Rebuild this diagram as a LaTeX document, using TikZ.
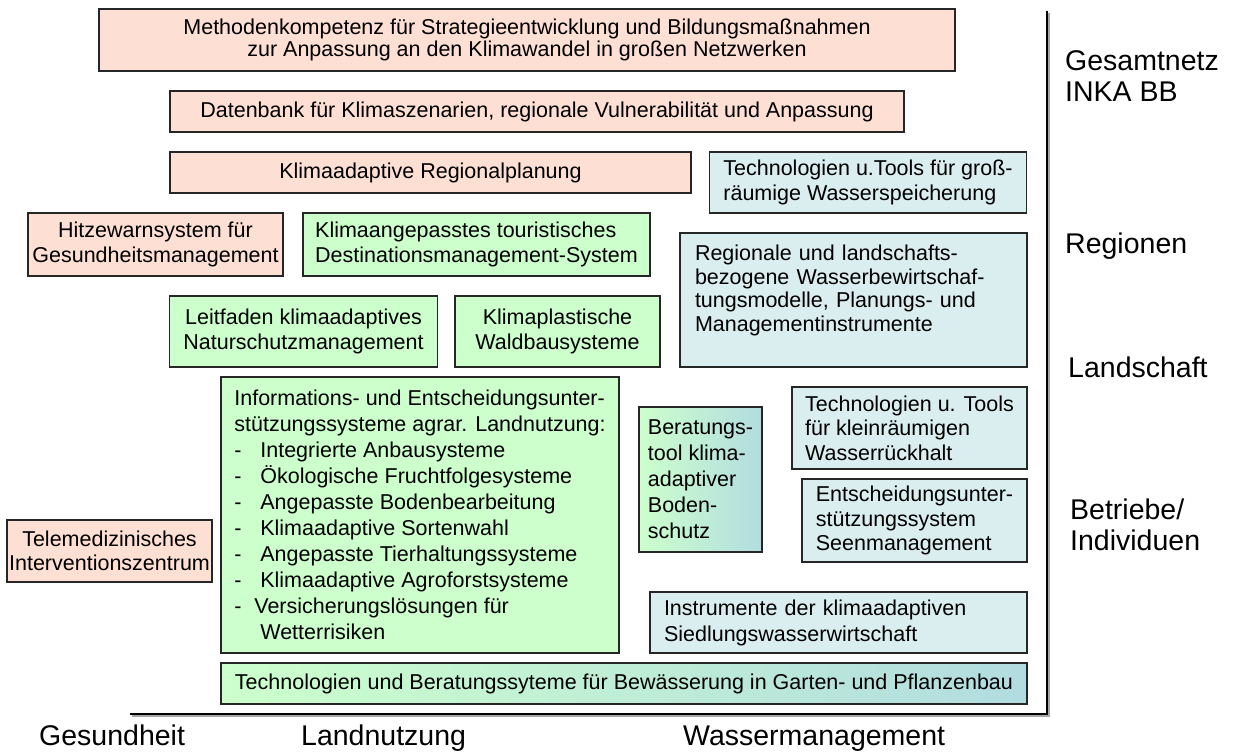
\documentclass[tikz,border=0pt]{standalone}
\usepackage{fontspec}
\setmainfont{Liberation Sans}

\definecolor{pinkfill}{HTML}{FDDFD3}
\definecolor{greenfill}{HTML}{CCFFCC}
\definecolor{bluefill}{HTML}{DAEDEF}
\definecolor{tealfill}{HTML}{B2DCE0}

\begin{document}
\begin{tikzpicture}[
        x=1pt, y=-1pt,
        every node/.style={font=\fontsize{21.5}{24.5}\selectfont},
        box/.style={draw=black!85, line width=1.2pt, inner xsep=14pt, inner ysep=0pt},
        pinkbox/.style={box, fill=pinkfill, align=center},
        greenbox/.style={box, fill=greenfill},
        bluebox/.style={box, fill=bluefill, align=left},
        fadebox/.style={box, left color=greenfill, right color=tealfill},
        level/.style={font=\fontsize{28.5}{31}\selectfont, anchor=base west, align=left, inner sep=0pt},
        field/.style={font=\fontsize{28.5}{31}\selectfont, anchor=base west, inner sep=0pt}
    ]
        \useasboundingbox (0,0) rectangle (1237,753);

        % Gesamtnetz / Regionen
        \node[pinkbox, minimum width=856pt, minimum height=62pt,
              font=\fontsize{21.5}{22.5}\selectfont] (methoden) at (527,40)
            {Methodenkompetenz für Strategieentwicklung und Bildungsmaßnahmen\\zur Anpassung an den Klimawandel in großen Netzwerken};
        \node[pinkbox, minimum width=734pt, minimum height=41pt] (datenbank) at (537,111.5)
            {Datenbank für Klimaszenarien, regionale Vulnerabilität und Anpassung};
        \node[pinkbox, minimum width=521pt, minimum height=41pt] (regplanung) at (430.5,172.5)
            {Klimaadaptive Regionalplanung};
        \node[bluebox, minimum width=316pt, minimum height=61pt] (grossraum) at (868,182.5)
            {Technologien u.Tools für groß-\\räumige Wasserspeicherung};
        \node[pinkbox, minimum width=255pt, minimum height=63pt, inner xsep=2pt] (hitze) at (155.5,244.5)
            {Hitzewarnsystem für\\Gesundheitsmanagement};
        \node[greenbox, align=left, minimum width=347pt, minimum height=63pt, inner xsep=4pt] (tourismus) at (476.5,244.5)
            {Klimaangepasstes touristisches\\Destinationsmanagement-System};

        % Landschaft
        \node[bluebox, text width=317pt, inner xsep=15pt, minimum height=134pt, text depth=94pt,
              font=\fontsize{21.5}{23.5}\selectfont] (wasserregion) at (853.5,300)
            {Regionale und landschafts-\\bezogene Wasserbewirtschaf-\\tungsmodelle, Planungs- und\\Managementinstrumente};
        \node[greenbox, align=center, minimum width=265pt, minimum height=71pt] (leitfaden) at (303.5,331.5)
            {Leitfaden klimaadaptives\\Naturschutzmanagement};
        \node[greenbox, align=center, minimum width=205pt, minimum height=71pt] (waldbau) at (557.5,331.5)
            {Klimaplastische\\Waldbausysteme};

        % Betriebe / Individuen
        \node[greenbox, align=left, minimum width=398pt, minimum height=276pt, inner xsep=4pt,
              font=\fontsize{21.5}{26}\selectfont] (agrar) at (420,515)
            {Informations- und Entscheidungsunter-\\stützungssysteme agrar. Landnutzung:\\
             \makebox[26pt][l]{-}Integrierte Anbausysteme\\
             \makebox[26pt][l]{-}Ökologische Fruchtfolgesysteme\\
             \makebox[26pt][l]{-}Angepasste Bodenbearbeitung\\
             \makebox[26pt][l]{-}Klimaadaptive Sortenwahl\\
             \makebox[26pt][l]{-}Angepasste Tierhaltungssysteme\\
             \makebox[26pt][l]{-}Klimaadaptive Agroforstsysteme\\
             \makebox[20pt][l]{-}Versicherungslösungen für\\
             \hspace*{26pt}Wetterrisiken};
        \node[fadebox, align=left, minimum width=123pt, minimum height=145pt, inner xsep=2pt,
              font=\fontsize{21.5}{26}\selectfont] (beratung) at (700.5,479.5)
            {Beratungs-\\tool klima-\\adaptiver\\Boden-\\schutz};
        \node[bluebox, minimum width=235pt, minimum height=82pt, inner xsep=4pt] (kleinraum) at (909.5,428)
            {Technologien u. Tools\\für kleinräumigen\\Wasserrückhalt};
        \node[bluebox, minimum width=225pt, minimum height=83pt, inner xsep=4pt] (seen) at (914.5,520.5)
            {Entscheidungsunter-\\stützungssystem\\Seenmanagement};
        \node[pinkbox, minimum width=205pt, minimum height=62pt, inner xsep=2pt] (telemed) at (109.5,551)
            {Telemedizinisches\\Interventionszentrum};
        \node[bluebox, text width=349pt, minimum height=61pt, font=\fontsize{21.5}{26}\selectfont] (siedlung) at (838.5,622.5)
            {Instrumente der klimaadaptiven\\Siedlungswasserwirtschaft};
        \node[fadebox, minimum width=806pt, minimum height=41pt, inner xsep=4pt] (bewaesserung) at (624,683.5)
            {Technologien und Beratungssyteme für Bewässerung in Garten- und Pflanzenbau};

        % Achsen
        \coordinate (axtop) at (1047,11);
        \coordinate (axcorner) at (1047,714);
        \coordinate (axleft) at (130,714);
        \draw[black!35, line width=1.4pt] ([shift={(2,2)}]axtop) -- ([shift={(2,2)}]axcorner) -- ([shift={(2,2)}]axleft);
        \draw[line width=1.4pt] (axtop) -- (axcorner) -- (axleft);

        % Ebenen
        \node[level] (gesamt) at (1065,101) {Gesamtnetz\\INKA BB};
        \node[level] (regionen) at (1065,253) {Regionen};
        \node[level] (landschaft) at (1068,377) {Landschaft};
        \node[level] (betriebe) at (1070,550) {Betriebe/\\Individuen};

        % Handlungsfelder
        \node[field] (gesundheit) at (39,745) {Gesundheit};
        \node[field] (landnutzung) at (301,745) {Landnutzung};
        \node[field] (wasser) at (683,745) {Wassermanagement};
\end{tikzpicture}
\end{document}
